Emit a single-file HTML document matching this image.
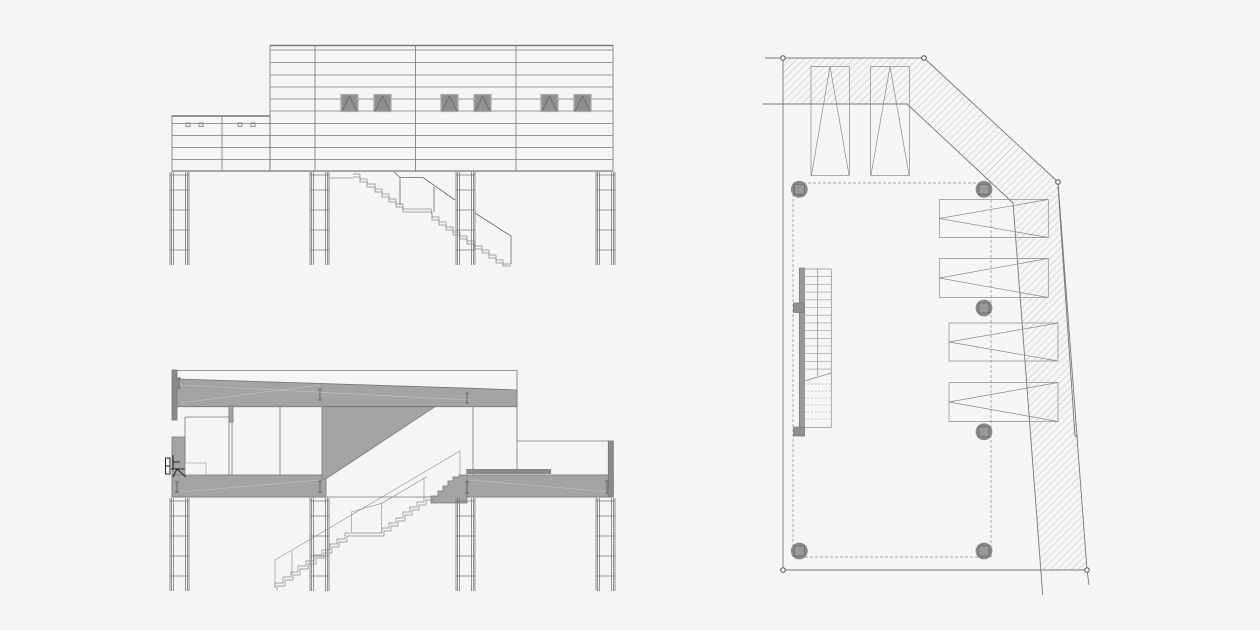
<!DOCTYPE html>
<html><head><meta charset="utf-8"><style>
html,body{margin:0;padding:0;background:#f4f5f7;}
svg{display:block;}
</style></head><body>
<svg width="1260" height="630" viewBox="0 0 1260 630" xmlns="http://www.w3.org/2000/svg">
<defs>
<pattern id="h" width="5" height="5" patternUnits="userSpaceOnUse" patternTransform="rotate(45)">
<line x1="0" y1="0" x2="0" y2="5" stroke="#aaa" stroke-width="0.7"/>
</pattern>
<g id="colT" stroke="#777" stroke-width="0.8" fill="none">
<line x1="0" y1="0" x2="0" y2="93"/><line x1="1.5" y1="0" x2="1.5" y2="93"/><line x1="3.5" y1="0" x2="3.5" y2="93"/>
<line x1="15.5" y1="0" x2="15.5" y2="93"/><line x1="17.5" y1="0" x2="17.5" y2="93"/><line x1="19" y1="0" x2="19" y2="93"/>
<line x1="0" y1="3" x2="19" y2="3"/><line x1="0" y1="18" x2="19" y2="18"/><line x1="0" y1="38" x2="19" y2="38"/><line x1="0" y1="58" x2="19" y2="58"/><line x1="0" y1="78" x2="19" y2="78"/>
</g>
<g id="col" fill="#888" stroke="#555" stroke-width="0.8"><circle r="8" fill="#8a8a8a" stroke="#888"/><rect x="-5" y="-5" width="10" height="10" fill="#999" stroke="#666"/></g>
</defs>

<!-- ===== TOP ELEVATION ===== -->
<g stroke="#777" stroke-width="0.8" fill="none">
<rect x="270" y="45.5" width="343" height="125.5"/>
<line x1="270" y1="45.5" x2="613" y2="45.5" stroke-width="1.6"/>
<rect x="172" y="116" width="98" height="55"/>
<line x1="172" y1="116" x2="270" y2="116" stroke-width="1.4"/>
<line x1="222" y1="116" x2="222" y2="171"/>
<line x1="315" y1="45" x2="315" y2="171"/>
<line x1="415.5" y1="45" x2="415.5" y2="171"/>
<line x1="516" y1="45" x2="516" y2="171"/>
<line x1="270" y1="50" x2="613" y2="50"/>
<line x1="270" y1="62.5" x2="613" y2="62.5"/>
<line x1="270" y1="75" x2="613" y2="75"/>
<line x1="270" y1="87" x2="613" y2="87"/>
<line x1="270" y1="99" x2="613" y2="99"/>
<line x1="270" y1="111" x2="613" y2="111"/>
<line x1="172" y1="123.5" x2="613" y2="123.5"/>
<line x1="172" y1="135.5" x2="613" y2="135.5"/>
<line x1="172" y1="147.5" x2="613" y2="147.5"/>
<line x1="172" y1="159.5" x2="613" y2="159.5"/>
<line x1="172" y1="171" x2="613" y2="171" stroke-width="1.2"/>
<rect x="186" y="123" width="4" height="3.5"/><rect x="199" y="123" width="4" height="3.5"/>
<rect x="238" y="123" width="4" height="3.5"/><rect x="251" y="123" width="4" height="3.5"/>
</g>
<g fill="#8f8f8f" stroke="#aaa" stroke-width="1.2">
<rect x="341" y="94.5" width="17" height="17"/><rect x="374" y="94.5" width="17" height="17"/>
<rect x="441" y="94.5" width="17" height="17"/><rect x="474" y="94.5" width="17" height="17"/>
<rect x="541" y="94.5" width="17" height="17"/><rect x="574" y="94.5" width="17" height="17"/>
</g>
<g stroke="#555" stroke-width="0.6" fill="none">
<polyline points="342,111 349.5,96 357,111"/><polyline points="375,111 382.5,96 390,111"/>
<polyline points="442,111 449.5,96 457,111"/><polyline points="475,111 482.5,96 490,111"/>
<polyline points="542,111 549.5,96 557,111"/><polyline points="575,111 582.5,96 590,111"/>
</g>
<use href="#colT" x="170" y="172"/><use href="#colT" x="310" y="172"/><use href="#colT" x="456" y="172"/><use href="#colT" x="596" y="172"/>
<g stroke="#888" stroke-width="0.7" fill="none">
<line x1="330" y1="178" x2="353" y2="178"/>
<polyline points="353,174 360,174 360,179 367,179 367,184 375,184 375,189 382,189 382,194 389,194 389,199 396,199 396,204 403,204 403,209 431,209 432,212 432,217 439,217 439,222 446,222 446,227 453,227 453,232 460,232 460,236 467,236 467,241 474,241 474,246 482,246 482,250 489,250 489,255 496,255 496,260 503,260 503,264 511,264"/>
<polyline points="353,177 360,177 360,182 367,182 367,187 375,187 375,192 382,192 382,197 389,197 389,202 396,202 396,207 403,207 403,212 431,212 432,215 432,220 439,220 439,225 446,225 446,230 453,230 453,235 460,235 460,239 467,239 467,244 474,244 474,249 482,249 482,253 489,253 489,258 496,258 496,263 503,263 503,266 511,266"/>
</g>
<g stroke="#666" stroke-width="0.8" fill="none">
<polyline points="394,172 400,177.5 423,177.5 455,200"/>
<line x1="400" y1="177.5" x2="400" y2="205"/>
<line x1="434" y1="187" x2="434" y2="212"/>
<polyline points="475,213 511,236 511,264"/>
</g>

<!-- ===== SECTION ===== -->
<g stroke="#777" stroke-width="0.8" fill="none">
<line x1="172" y1="370.5" x2="517" y2="370.5"/>
<line x1="517" y1="370.5" x2="517" y2="470"/>
<line x1="473" y1="388" x2="473" y2="475"/>
<line x1="517" y1="441" x2="609" y2="441"/>
<line x1="232" y1="406" x2="232" y2="476"/>
<line x1="280" y1="406" x2="280" y2="476"/>
<line x1="229" y1="406" x2="229" y2="497"/>
<line x1="185" y1="417" x2="232" y2="417"/>
<line x1="185" y1="417" x2="185" y2="476"/>
<line x1="172" y1="497" x2="613" y2="497"/>
</g>
<g fill="#a3a3a3" stroke="#777" stroke-width="0.8">
<polygon points="176.5,379 473,388.3 517,390 517,406.7 176.5,406.7"/>
<rect x="172" y="370" width="5" height="50" fill="#8a8a8a"/>
<rect x="229" y="406" width="4" height="16"/>
<rect x="172" y="437" width="13" height="60"/>
<rect x="172" y="475" width="154" height="22"/>
<polygon points="322,406.7 435,406.7 325.7,479 322,479"/>
<rect x="466.7" y="475" width="146.6" height="22"/>
<rect x="466.7" y="469.5" width="84" height="4" fill="#8a8a8a"/>
<rect x="608.3" y="441" width="5" height="56" fill="#8a8a8a"/>
<polygon points="431,503 431,496 438,496 438,491 443,491 443,486 448,486 448,481 453,481 453,477 459,477 459,475 467,475 467,503"/>
</g>
<g stroke="#c4c4c4" stroke-width="0.6" fill="none">
<line x1="180" y1="385" x2="470" y2="400"/><line x1="180" y1="403" x2="320" y2="385"/>
<line x1="180" y1="492" x2="320" y2="480"/><line x1="470" y1="480" x2="610" y2="492"/>
</g>
<g stroke="#555" stroke-width="0.8" fill="none">
<path d="M177,378h4M179,378v10M177,388h4"/>
<path d="M318,389h4M320,389v11M318,400h4"/>
<path d="M465,393h4M467,393v10M465,403h4"/>
<path d="M175,482h4M177,482v10M175,492h4"/>
<path d="M318,481h4M320,481v11M318,492h4"/>
<path d="M465,482h4M467,482v11M465,493h4"/>
<path d="M605,481h4M607,481v12M605,493h4"/>
</g>
<g stroke="#222" stroke-width="1" fill="none">
<rect x="165.5" y="458" width="4.5" height="16"/>
<line x1="165.5" y1="466" x2="170" y2="466"/>
<line x1="173" y1="455" x2="173" y2="469"/>
<line x1="171" y1="469" x2="185" y2="469"/>
<line x1="177" y1="469" x2="186" y2="477"/>
<line x1="177" y1="469" x2="173" y2="477"/>
<line x1="173" y1="462" x2="180" y2="462"/>
</g>
<g stroke="#999" stroke-width="0.6" fill="none">
<rect x="185" y="463" width="21" height="12"/>
</g>
<use href="#colT" x="170" y="498"/><use href="#colT" x="310" y="498"/><use href="#colT" x="456" y="498"/><use href="#colT" x="596" y="498"/>
<g stroke="#888" stroke-width="0.7" fill="none">
<polyline points="275,588 275,583 283,583 283,577 291,577 291,572 298,572 298,566 306,566 306,561 314,561 314,555 322,555 322,550 330,550 330,544 337,544 337,539 345,539 345,533 353,533 382,533 382,528 389,528 389,523 396,523 396,518 403,518 403,512 410,512 410,507 417,507 417,502 424,502 424,497 432,497"/>
<polyline points="277,590 277,586 285,586 285,580 293,580 293,575 300,575 300,569 308,569 308,564 316,564 316,558 324,558 324,553 332,553 332,547 339,547 339,542 347,542 347,536 355,536 384,536 384,531 391,531 391,526 398,526 398,521 405,521 405,515 412,515 412,510 419,510 419,505 426,505 426,500 434,500"/>
</g>
<g stroke="#888" stroke-width="0.6" fill="none">
<polyline points="275,588 275,560 460,451 460,476"/>
<polyline points="351.7,532 351.7,511.7 381.7,503.3 426.7,476.7"/>
<line x1="381.7" y1="503.3" x2="381.7" y2="533"/>
<line x1="424" y1="478" x2="424" y2="497"/>
<line x1="292" y1="551" x2="292" y2="575"/>
</g>

<!-- ===== PLAN ===== -->
<polygon points="783,58 924,58 1058,182 1087,570 1041,570 1013,203 907,104 783,104" fill="url(#h)" stroke="none"/>
<g stroke="#777" stroke-width="0.9" fill="none">
<line x1="765" y1="58" x2="783" y2="58"/>
<polyline points="783,58 924,58 1058,182 1087,570 783,570 783,58"/>
<polyline points="763,104 907,104 1013,203 1042.7,595"/>
<polyline points="1058,186 1075,436 1078,436"/>
<line x1="1087" y1="570" x2="1089" y2="585"/>
</g>
<g stroke="#555" stroke-width="1" fill="#f4f5f7">
<circle cx="783" cy="58" r="2.3"/><circle cx="924" cy="58" r="2.3"/><circle cx="1058" cy="182" r="2.3"/>
<circle cx="783" cy="570" r="2.3"/><circle cx="1087" cy="570" r="2.3"/>
</g>
<rect x="793" y="183" width="198" height="374" fill="none" stroke="#888" stroke-width="0.7" stroke-dasharray="3,2"/>
<g stroke="#888" stroke-width="0.7" fill="none">
<rect x="811" y="66.5" width="38.5" height="109"/><polyline points="811.5,175 830,66.5 849,175"/>
<rect x="870.5" y="66.5" width="39" height="109"/><polyline points="871,175 890,66.5 909,175"/>
<rect x="939.3" y="199.5" width="109" height="38"/><polyline points="1048,199.5 939.3,218.5 1048,237.5"/>
<rect x="939.3" y="258.5" width="109" height="39"/><polyline points="1048,258.5 939.3,278 1048,297.5"/>
<rect x="949" y="323" width="109" height="38"/><polyline points="1058,323 949,342 1058,361"/>
<rect x="949" y="382.5" width="109" height="39"/><polyline points="1058,382.5 949,402 1058,421.5"/>
<rect x="804.3" y="269" width="27" height="158.5"/>
<line x1="817.7" y1="269" x2="817.7" y2="376"/>
<line x1="804.3" y1="381" x2="831.3" y2="373"/>
</g>
<g stroke="#999" stroke-width="0.6">
<path d="M804,276.7h27M804,284.4h27M804,292.1h27M804,299.8h27M804,307.5h27M804,315.2h27M804,322.9h27M804,330.6h27M804,338.3h27M804,346h27M804,353.7h27M804,361.4h27M804,369.1h27"/>
<path d="M804,384h27M804,391h27M804,398h27M804,405h27M804,412h27M804,419h27" stroke-dasharray="2,1.5"/>
</g>
<rect x="799.3" y="268" width="5" height="168" fill="#999" stroke="#777" stroke-width="0.7"/>
<rect x="793.5" y="303" width="11" height="9.5" fill="#8f8f8f" stroke="#777" stroke-width="0.7"/>
<rect x="793.5" y="427" width="11" height="9" fill="#8f8f8f" stroke="#777" stroke-width="0.7"/>
<use href="#col" x="799.3" y="189.3"/><use href="#col" x="984" y="189.3"/>
<use href="#col" x="984" y="308"/><use href="#col" x="984" y="431.8"/>
<use href="#col" x="799.3" y="551"/><use href="#col" x="984" y="551"/>
</svg>
</body></html>
